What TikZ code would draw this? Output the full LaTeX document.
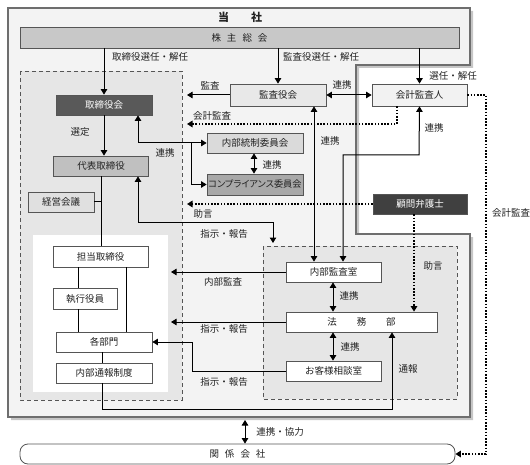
\documentclass[tikz,border=0pt]{standalone}
\usepackage{fontspec}
\setmainfont{Noto Sans CJK JP}
\newfontfamily\paltfont[RawFeature=+palt]{Noto Sans CJK JP}
\usetikzlibrary{arrows.meta}
\definecolor{outerfill}{HTML}{F3F3F3}
\definecolor{outerline}{HTML}{6E6E6E}
\definecolor{regfill}{HTML}{E6E6E6}
\definecolor{boxline}{HTML}{555555}
\definecolor{txt}{HTML}{222222}
\definecolor{ckabu}{HTML}{C8C8C8}
\definecolor{cdark}{HTML}{595959}
\definecolor{cdaihyo}{HTML}{C0C0C0}
\definecolor{ckeiei}{HTML}{E0E0E0}
\definecolor{ckansa}{HTML}{E8E8E8}
\definecolor{ckaikei}{HTML}{F2F2F2}
\definecolor{ctosei}{HTML}{DADADA}
\definecolor{ccomp}{HTML}{A8A8A8}
\definecolor{ckomon}{HTML}{404040}
\begin{document}
\begin{tikzpicture}[x=1pt,y=-1pt,font=\fontsize{9.5}{11}\selectfont,
  box/.style={draw=boxline,line width=0.8pt,minimum height=20pt,inner sep=0pt,text=txt,anchor=center},
  lbl/.style={inner sep=0pt,text=txt},
  arr/.style={line width=1pt,-{Triangle[width=6.5pt,length=5.5pt]}},
  darr/.style={line width=1pt,{Triangle[width=6.5pt,length=5.5pt]}-{Triangle[width=6.5pt,length=5.5pt]}},
  plain/.style={line width=1pt},
  dotline/.style={line width=1.8pt,dash pattern=on 1.6pt off 1.6pt},
  dotarr/.style={dotline,-{Triangle[width=6.5pt,length=5.5pt]}}]
\useasboundingbox (0,0) rectangle (530,465);
% outer company region with shadow
\fill[gray!45] (11,11) -- (473,11) -- (473,68) -- (359,68) -- (359,237) -- (473,237) -- (473,420) -- (11,420) -- cycle;
\draw[fill=outerfill,draw=outerline,line width=1.3pt] (8,8) -- (470,8) -- (470,65) -- (356,65) -- (356,234) -- (470,234) -- (470,417) -- (8,417) -- cycle;
\node[font=\fontsize{11}{13}\selectfont\bfseries,text=txt] (title) at (240,17) {当\hspace{22pt}社};
% regions
\draw[fill=regfill,draw=boxline,line width=0.8pt,dash pattern=on 4pt off 3pt] (20,71) rectangle (182,400);
\fill[white] (33,235) rectangle (168,392);
\draw[fill=regfill,draw=boxline,line width=0.8pt,dash pattern=on 4pt off 3pt] (263,246) rectangle (457,399);
% boxes
\node[box,fill=ckabu,minimum width=439pt,minimum height=21pt] (kabu) at (239.5,37.5) {株\hspace{6pt}主\hspace{6pt}総\hspace{6pt}会};
\node[box,fill=cdark,text=white,minimum width=96pt] (tori) at (104,105) {取締役会};
\node[box,fill=cdaihyo,minimum width=95pt] (daihyo) at (101,166) {代表取締役};
\node[box,fill=ckeiei,minimum width=66pt] (keiei) at (61,202) {経営会議};
\node[box,fill=white,minimum width=95pt,minimum height=21pt] (tanto) at (100.5,256.5) {担当取締役};
\node[box,fill=white,minimum width=64pt,minimum height=21pt] (shikko) at (85,298.5) {執行役員};
\node[box,fill=white,minimum width=96pt] (kakubu) at (104,342) {各部門};
\node[box,fill=white,minimum width=96pt] (tsuho) at (104,373) {内部通報制度};
\node[box,fill=ckansa,minimum width=96pt,minimum height=22pt] (kansa) at (278,95) {監査役会};
\node[box,fill=ckaikei,minimum width=95pt,minimum height=22pt] (kaikei) at (419.5,95) {会計監査人};
\node[box,fill=ctosei,minimum width=96pt] (tosei) at (255,143) {内部統制委員会};
\node[box,fill=ccomp,minimum width=96pt,minimum height=21pt,font=\paltfont\fontsize{9.2}{11}\selectfont] (comp) at (255,184.5) {コンプライアンス委員会};
\node[box,fill=ckomon,text=white,minimum width=94pt] (komon) at (420,204) {顧問弁護士};
\node[box,fill=white,minimum width=95pt] (nkansa) at (333.5,272) {内部監査室};
\node[box,fill=white,minimum width=151pt] (homu) at (361.5,322) {法\hspace{20pt}務\hspace{20pt}部};
\node[box,fill=white,minimum width=95pt] (okyaku) at (333.5,371) {お客様相談室};
\node[box,fill=white,minimum width=435pt,rounded corners=8pt] (kankei) at (237.5,454) {関\hspace{6pt}係\hspace{6pt}会\hspace{6pt}社};
% free ends
\coordinate (eKansa) at (187,95);
\coordinate (eKaikei) at (187,124);
\coordinate (eJogen) at (187,204);
\coordinate (eNai) at (171,272);
\coordinate (eHomu) at (171,322);
\coordinate (eShiji) at (273,243);
\coordinate (cTop) at (245,420);
% connectors
\draw[arr] (kabu.south -| tori) -- (tori.north);
\draw[arr] (kabu.south -| kansa) -- (kansa.north);
\draw[arr] (kabu.south -| kaikei) -- (kaikei.north);
\draw[arr] (tori.south) -- (tori.south |- daihyo.north);
\draw[plain] (daihyo.south) -- (daihyo.south |- tanto.north);
\draw[plain] (keiei.east) -- (keiei.east -| daihyo.south);
\draw[plain] (tanto.south -| 78,0) -- (shikko.north -| 78,0);
\draw[plain] (shikko.south -| 78,0) -- (kakubu.north -| 78,0);
\draw[plain] (tanto.south -| 126,0) -- (kakubu.north -| 126,0);
\draw[plain] (kakubu.south -| 102,0) -- (tsuho.north -| 102,0);
\draw[arr] (tsuho.south -| 102,0) -- (102,409) -- (392,409) -- (homu.south -| 392,0);
\draw[arr] (kansa.west) -- (eKansa);
\draw[darr] (kansa.east) -- (kaikei.west);
\draw[dotarr] (kaikei.south -| 397,0) -- (397,124) -- (eKaikei);
\draw[darr] (kaikei.south) -- (419,155) -- (343,155) -- (nkansa.north -| 343,0);
\draw[darr] (kansa.south -| 314,0) -- (nkansa.north -| 314,0);
\draw[darr] (tori.south -| 138,0) -- (138,143) -- (tosei.west);
\draw[arr] (191,143) -- (191,184.5) -- (comp.west);
\draw[darr] (tosei.south -| 254,0) -- (comp.north -| 254,0);
\draw[dotarr] (komon.west) -- (eJogen);
\draw[dotarr] (komon.south -| 414,0) -- (homu.north -| 414,0);
\draw[dotarr] (kaikei.east) -- (486,95) -- (486,454) -- (kankei.east);
\draw[darr] (daihyo.south -| 138,0) -- (138,223) -- (273,223) -- (eShiji);
\draw[arr] (nkansa.west) -- (eNai);
\draw[arr] (homu.west) -- (eHomu);
\draw[arr] (okyaku.west) -- (192,371) -- (192,342) -- (kakubu.east);
\draw[darr] (nkansa.south -| 333,0) -- (homu.north -| 333,0);
\draw[darr] (homu.south -| 333,0) -- (okyaku.north -| 333,0);
\draw[darr] (cTop) -- (kankei.north -| cTop);
% labels
\node[lbl] (l1) at (150,57) {取締役選任・解任};
\node[lbl] (l2) at (321,57) {監査役選任・解任};
\node[lbl] (l3) at (453,76) {選任・解任};
\node[lbl] (l4) at (80,132) {選定};
\node[lbl] (l5) at (210,86) {監査};
\node[lbl] (l6) at (342,85) {連携};
\node[lbl] (l7) at (212,116) {会計監査};
\node[lbl] (l8) at (434,128) {連携};
\node[lbl] (l9) at (330,141) {連携};
\node[lbl] (l10) at (165,153) {連携};
\node[lbl] (l11) at (272,165) {連携};
\node[lbl] (l12) at (203,214) {助言};
\node[lbl] (l13) at (224,234) {指示・報告};
\node[lbl] (l14) at (223,282) {内部監査};
\node[lbl] (l15) at (224,329) {指示・報告};
\node[lbl] (l16) at (224,382) {指示・報告};
\node[lbl] (l17) at (349,296) {連携};
\node[lbl] (l18) at (350,347) {連携};
\node[lbl] (l19) at (408,369) {通報};
\node[lbl] (l20) at (433,266) {助言};
\node[lbl] (l21) at (511,213) {会計監査};
\node[lbl] (l22) at (280,432) {連携・協力};
\end{tikzpicture}
\end{document}
